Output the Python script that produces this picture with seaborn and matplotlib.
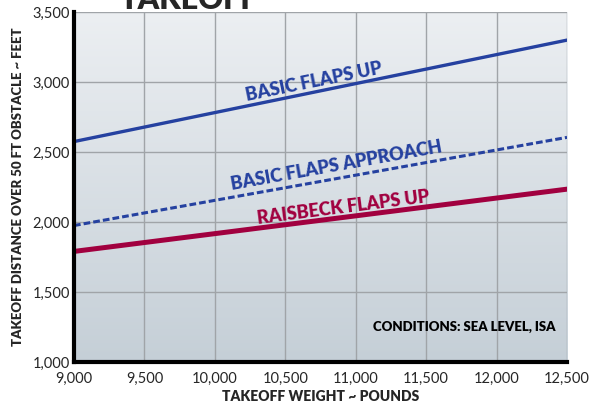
import numpy as np
import matplotlib
matplotlib.use("Agg")
import matplotlib.pyplot as plt
import seaborn as sns
import pandas as pd

# ---------------- data ----------------
weight = [9000, 12500]
basic_up = [2575, 3300]
basic_approach = [1975, 2605]
raisbeck_up = [1790, 2235]

x_ticks = [9000, 9500, 10000, 10500, 11000, 11500, 12000, 12500]
y_ticks = [1000, 1500, 2000, 2500, 3000, 3500]

blue = "#2541a0"
crimson = "#a1003f"

sns.set_theme(style="white")
plt.rcParams['font.family'] = ['Lato', 'DejaVu Sans']

df = pd.DataFrame({"weight": weight * 3,
                   "dist": basic_up + basic_approach + raisbeck_up,
                   "series": ["up"] * 2 + ["app"] * 2 + ["rais"] * 2})

fig = plt.figure(figsize=(5.89, 4.04), dpi=100)
ax = fig.add_axes([0.1256, 0.104, 0.8371, 0.866])

# gradient background, light at top, grey-blue at bottom
grad = np.linspace(0, 1, 256).reshape(-1, 1)
cmap = matplotlib.colors.LinearSegmentedColormap.from_list("bg", ["#eceff2", "#c5cfd7"])
ax.imshow(grad, extent=[0, 1, 0, 1], origin="upper", transform=ax.transAxes,
          cmap=cmap, aspect="auto", zorder=0)

sns.lineplot(data=df[df.series == "up"], x="weight", y="dist", color=blue,
             linewidth=2.4, ax=ax, zorder=3)
sns.lineplot(data=df[df.series == "app"], x="weight", y="dist", color=blue,
             linewidth=2.2, ax=ax, zorder=3)
ax.lines[-1].set_linestyle((0, (2.2, 1.0)))
sns.lineplot(data=df[df.series == "rais"], x="weight", y="dist", color=crimson,
             linewidth=3.6, ax=ax, zorder=3)

ax.set_xlim(9000, 12500)
ax.set_ylim(1000, 3500)
ax.set_xticks(x_ticks)
ax.set_yticks(y_ticks)
ax.set_xticklabels([f"{v:,}" for v in x_ticks], fontsize=10.5)
ax.set_yticklabels([f"{v:,}" for v in y_ticks], fontsize=10.5)
ax.tick_params(axis="x", length=0, pad=7)
ax.tick_params(axis="y", length=0, pad=3)
ax.grid(True, color="#a0a4a8", linewidth=1.0, zorder=1)
ax.set_axisbelow(True)

for s in ["top", "right"]:
    ax.spines[s].set_visible(False)
for s in ["left", "bottom"]:
    ax.spines[s].set_color("black")
    ax.spines[s].set_linewidth(3)
    ax.spines[s].set_zorder(4)

ax.set_xlabel("TAKEOFF WEIGHT ~ POUNDS", fontsize=10, fontweight="heavy", labelpad=3)
ax.set_ylabel("TAKEOFF DISTANCE OVER 50 FT OBSTACLE ~ FEET", fontsize=9.5,
              fontweight="heavy", labelpad=6)

ax.text(10700, 3005, "BASIC FLAPS UP", color=blue, fontsize=13, fontweight="heavy",
        rotation=11.5, ha="center", va="center", zorder=5)
ax.text(10860, 2400, "BASIC FLAPS APPROACH", color=blue, fontsize=13, fontweight="heavy",
        rotation=10.2, ha="center", va="center", zorder=5)
ax.text(10910, 2105, "RAISBECK FLAPS UP", color=crimson, fontsize=13, fontweight="heavy",
        rotation=7.3, ha="center", va="center", zorder=5)
ax.text(12420, 1250, "CONDITIONS: SEA LEVEL, ISA", color="black", fontsize=9.5,
        fontweight="heavy", ha="right", va="center", zorder=5)

fig.text(0.32, 1.0, "TAKEOFF", fontsize=22, fontweight="heavy", ha="center",
         va="center")

fig.savefig("out.png", dpi=100)
